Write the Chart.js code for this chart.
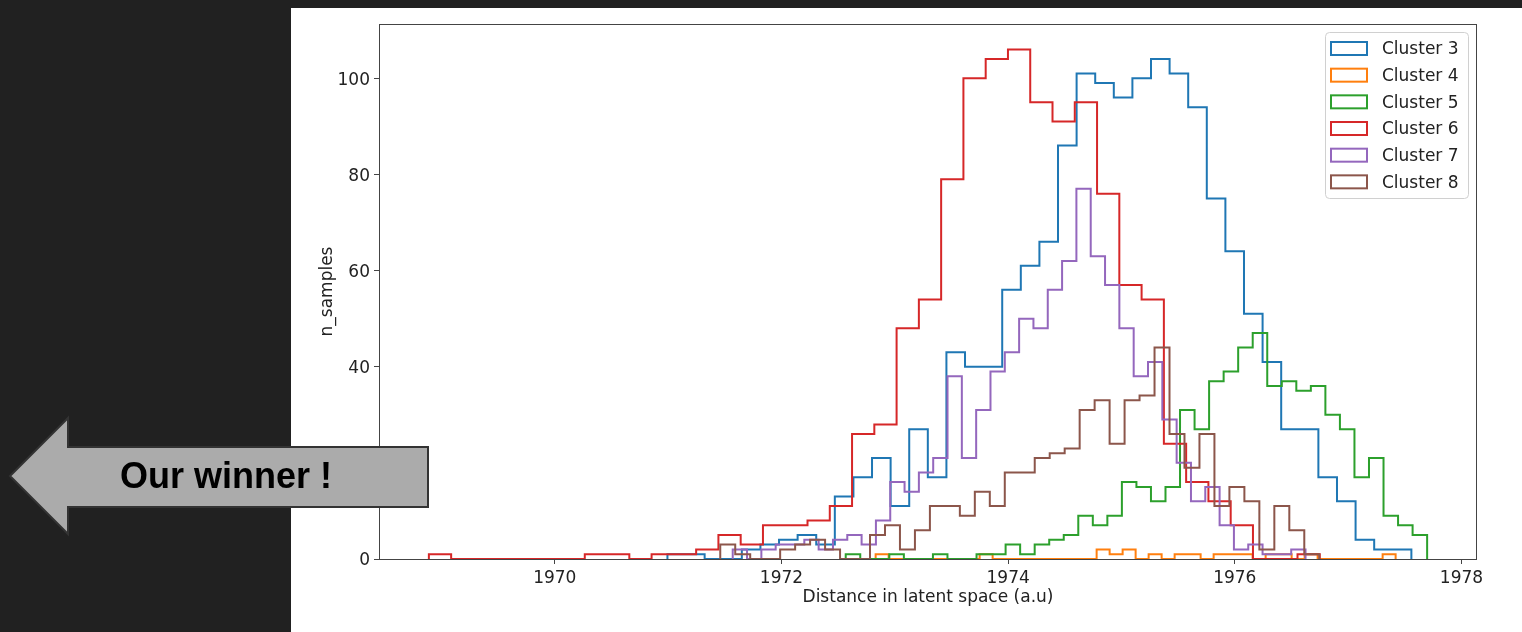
<!DOCTYPE html>
<html>
<head>
<meta charset="utf-8">
<title>Cluster histogram</title>
<script src="https://cdn.jsdelivr.net/npm/chart.js@4.4.1/dist/chart.umd.min.js"></script>
<style>
  html, body { margin: 0; padding: 0; width: 1522px; height: 632px; overflow: hidden; background: #212121; }
  #panel { position: absolute; left: 291px; top: 8px; width: 1231px; height: 624px; background: #fff; }
  #arrow { position: absolute; left: 0; top: 0; }
</style>
</head>
<body>
<div id="panel"><canvas id="histChart" width="1231" height="624"></canvas></div>
<svg id="arrow" width="440" height="632">
  <polygon points="10,476 68,418 68,447 428,447 428,507 68,507 68,534" fill="#ababab" stroke="#333" stroke-width="2"/>
  <text x="226" y="488" text-anchor="middle" font-family="Liberation Sans, Arial, sans-serif" font-weight="bold" font-size="36" fill="#000">Our winner !</text>
</svg>
<script>
// histogram data, 40 bins per cluster
const clusterNames = ["Cluster 3", "Cluster 4", "Cluster 5", "Cluster 6", "Cluster 7", "Cluster 8"];
const clusterColors = ["#1f77b4", "#ff7f0e", "#2ca02c", "#d62728", "#9467bd", "#8c564b"];

// first bin edge and bin width of each cluster
const binStart = [1970.994, 1972.831, 1972.567, 1968.889, 1971.570, 1971.460];
const binWidth = [0.1641, 0.1147, 0.12825, 0.19652, 0.12635, 0.13213];

const cluster3 = [1, 1, 0, 0, 2, 3, 4, 5, 3, 13, 17, 21, 11, 27, 17, 43, 40, 40, 56, 61,
                  66, 86, 101, 99, 96, 100, 104, 101, 94, 75, 64, 51, 41, 27, 27, 17, 12, 4, 2, 2];
const cluster4 = [1, 0, 0, 0, 0, 0, 0, 0, 1, 0, 0, 0, 0, 0, 0, 0, 0, 2, 1, 2,
                  0, 1, 0, 1, 1, 0, 1, 1, 1, 0, 1, 1, 0, 1, 0, 0, 0, 0, 0, 1];
const cluster5 = [1, 0, 0, 1, 0, 0, 1, 0, 0, 1, 1, 3, 1, 3, 4, 5, 9, 7, 9, 16,
                  15, 12, 15, 31, 27, 37, 39, 44, 47, 36, 37, 35, 36, 30, 27, 17, 21, 9, 7, 5];
const cluster6 = [1, 0, 0, 0, 0, 0, 0, 1, 1, 0, 1, 1, 2, 5, 3, 7, 7, 8, 11, 26,
                  28, 48, 54, 79, 100, 104, 106, 95, 91, 95, 76, 57, 54, 24, 16, 12, 7, 0, 0, 1];
const cluster7 = [2, 0, 2, 3, 3, 4, 2, 4, 5, 3, 8, 16, 14, 18, 21, 38, 21, 31, 39, 43,
                  50, 48, 56, 62, 77, 63, 57, 48, 38, 41, 29, 20, 12, 15, 7, 2, 3, 1, 1, 2];
const cluster8 = [3, 1, 0, 0, 2, 3, 4, 2, 0, 0, 5, 7, 2, 6, 11, 11, 9, 14, 11, 18,
                  18, 21, 22, 23, 31, 33, 24, 33, 34, 44, 26, 19, 26, 11, 15, 12, 2, 11, 6, 1];
const clusterCounts = [cluster3, cluster4, cluster5, cluster6, cluster7, cluster8];

const xTicks = [1970, 1972, 1974, 1976, 1978];
const yTicks = [0, 20, 40, 60, 80, 100];
const xMin = 1968.449;
const xMax = 1978.137;
const yMax = 111.3;

const tickFont = { family: "DejaVu Sans", size: 17 };
const textColor = "#222";

// outline of a step histogram: up at the first edge, across each bin, down at the last edge
function stepPoints(start, width, counts) {
    const pts = [{ x: start, y: 0 }];
    counts.forEach((c, i) => pts.push({ x: start + i * width, y: c }));
    pts.push({ x: start + counts.length * width, y: 0 });
    return pts;
}

const datasets = clusterNames.map((name, i) => ({
    label: name,
    data: stepPoints(binStart[i], binWidth[i], clusterCounts[i]),
    borderColor: clusterColors[i],
    backgroundColor: clusterColors[i],
    borderWidth: 2,
    pointRadius: 0,
    fill: false,
    stepped: true,
    order: clusterNames.length - i,
}));

// axes box, like matplotlib spines
const framePlugin = {
    id: "frame",
    afterDatasetsDraw: (chart) => {
        const { ctx, chartArea } = chart;
        ctx.save();
        ctx.strokeStyle = "#444";
        ctx.lineWidth = 1;
        ctx.strokeRect(chartArea.left + 0.5, chartArea.top + 0.5,
            chartArea.right - chartArea.left - 1, chartArea.bottom - chartArea.top);
        ctx.restore();
    },
};

// legend in the upper right corner with hollow patches
const legendPlugin = {
    id: "boxLegend",
    afterDraw: (chart) => {
        const { ctx, chartArea } = chart;
        const boxX = chartArea.right - 152;
        const boxY = chartArea.top + 8;
        const boxW = 143;
        const boxH = 166;
        ctx.save();
        ctx.fillStyle = "rgba(255, 255, 255, 0.8)";
        ctx.strokeStyle = "#d0d0d0";
        ctx.lineWidth = 1;
        ctx.beginPath();
        ctx.roundRect(boxX + 0.5, boxY + 0.5, boxW, boxH, 4);
        ctx.fill();
        ctx.stroke();

        ctx.font = "17px 'DejaVu Sans'";
        ctx.textBaseline = "middle";
        ctx.fillStyle = textColor;
        chart.data.datasets.forEach((ds, i) => {
            const cy = boxY + 16.5 + i * 26.67;
            ctx.strokeStyle = ds.borderColor;
            ctx.lineWidth = 2;
            ctx.strokeRect(boxX + 6, cy - 6.5, 36, 13);
            ctx.fillText(ds.label, boxX + 57, cy + 1.5);
        });
        ctx.restore();
    },
};

const ctx = document.getElementById("histChart").getContext("2d");
const histChart = new Chart(ctx, {
    type: "line",
    data: { datasets: datasets },
    options: {
        responsive: false,
        animation: false,
        events: [],
        layout: {
            padding: { left: 0, right: 45, top: 16, bottom: 0 },
        },
        plugins: {
            legend: { display: false },
            tooltip: { enabled: false },
        },
        scales: {
            x: {
                type: "linear",
                min: xMin,
                max: xMax,
                afterBuildTicks: (axis) => {
                    axis.ticks = xTicks.map((v) => ({ value: v }));
                },
                afterFit: (axis) => {
                    axis.height = 73;
                },
                ticks: {
                    callback: (v) => String(v),
                    font: tickFont,
                    color: textColor,
                    padding: 4,
                    maxRotation: 0,
                    autoSkip: false,
                },
                grid: {
                    drawOnChartArea: false,
                    tickLength: 5,
                    tickColor: "#444",
                },
                border: { display: false },
                title: {
                    display: true,
                    text: "Distance in latent space (a.u)",
                    font: tickFont,
                    color: textColor,
                    padding: { top: 0, bottom: 24 },
                },
            },
            y: {
                type: "linear",
                min: 0,
                max: yMax,
                afterBuildTicks: (axis) => {
                    axis.ticks = yTicks.map((v) => ({ value: v }));
                },
                afterFit: (axis) => {
                    axis.width = 88;
                },
                ticks: {
                    callback: (v) => String(v),
                    font: tickFont,
                    color: textColor,
                    padding: 4,
                    labelOffset: 2,
                },
                grid: {
                    drawOnChartArea: false,
                    tickLength: 5,
                    tickColor: "#444",
                },
                border: { display: false },
                title: {
                    display: true,
                    text: "n_samples",
                    font: tickFont,
                    color: textColor,
                    padding: { top: 26, bottom: 0 },
                },
            },
        },
    },
    plugins: [framePlugin, legendPlugin],
});
</script>
</body>
</html>
